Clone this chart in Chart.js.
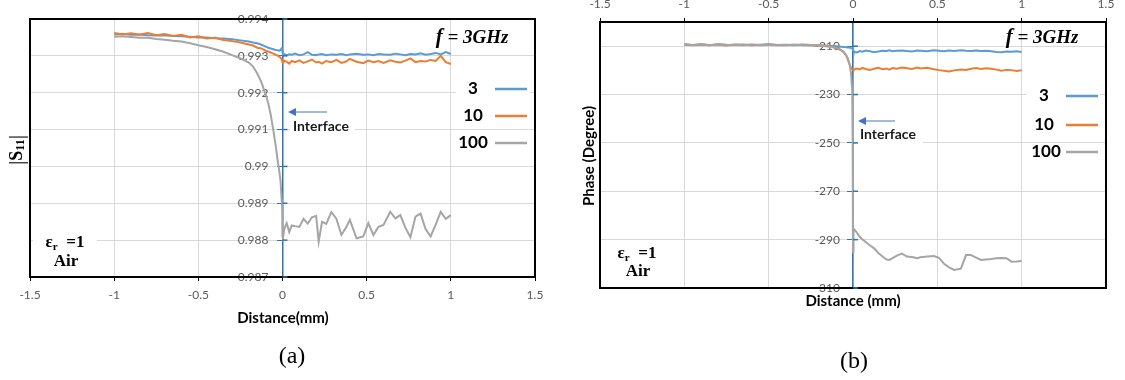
<!DOCTYPE html>
<html><head><meta charset="utf-8">
<script src="https://cdn.jsdelivr.net/npm/chart.js@4.4.0/dist/chart.umd.min.js"></script>
<style>
html,body{margin:0;padding:0;background:#fff;width:1125px;height:380px;overflow:hidden;}
#ca{position:absolute;left:0;top:0;}
#cb{position:absolute;left:560px;top:0;}
</style></head><body>
<canvas id="ca" width="560" height="380"></canvas>
<canvas id="cb" width="565" height="380"></canvas>
<script>
// ---------------- DATA ----------------
const seriesNames = ['3', '10', '100'];
const xs = [-1.00,-0.95,-0.90,-0.85,-0.80,-0.75,-0.70,-0.65,-0.60,-0.55,-0.50,-0.45,-0.40,-0.35,-0.30,-0.25,-0.20,
  -0.175,-0.15,-0.125,-0.10,-0.085,-0.07,-0.055,-0.04,-0.03,-0.02,-0.012,-0.005,-0.002,
  0.000,
  0.003,0.01,0.025,0.04,0.055,0.075,0.10,0.125,0.15,0.175,0.20,0.215,0.235,0.26,0.29,0.32,0.35,0.38,0.40,0.44,
  0.48,0.51,0.54,0.57,0.60,0.64,0.67,0.70,0.73,0.76,0.79,0.82,0.85,0.88,0.91,0.94,0.97,1.00];

// (a) |S11|
const s11Eps3 = [.99358,.99360,.99357,.99358,.99356,.99355,.99356,.99354,.99353,.99352,.99350,.99350,.99348,.99347,.99345,.99342,.99339,
  .99336,.99334,.99330,.99325,.99322,.99320,.99318,.99316,.99315,.99314,.99316,.99320,.99318,
  .99310,
  .99303,.99305,.99302,.99304,.99303,.99306,.99302,.99304,.99310,.99303,.99302,.99304,.99305,.99302,.99304,.99303,.99305,.99302,.99304,.99306,
  .99303,.99304,.99302,.99305,.99304,.99303,.99306,.99304,.99302,.99305,.99304,.99307,.99303,.99305,.99308,.99304,.99310,.99305];
const s11Eps10 = [.99362,.99358,.99361,.99357,.99362,.99356,.99359,.99354,.99357,.99350,.99353,.99347,.99349,.99343,.99340,.99336,.99331,
  .99328,.99322,.99320,.99314,.99312,.99309,.99306,.99303,.99301,.99298,.99295,.99290,.99287,
  .99282,
  .99280,.99287,.99284,.99279,.99286,.99283,.99288,.99281,.99285,.99290,.99282,.99284,.99279,.99286,.99283,.99289,.99281,.99285,.99292,.99284,
  .99280,.99287,.99283,.99286,.99281,.99288,.99284,.99282,.99287,.99293,.99283,.99286,.99285,.99289,.99286,.99300,.99283,.99278];
const s11Eps100 = [.99352,.99353,.99351,.99349,.99349,.99346,.99344,.99341,.99339,.99334,.99329,.99324,.99318,.99311,.99302,.99293,.99282,
  .99271,.99252,.99228,.99195,.99172,.99140,.99100,.99055,.99020,.98990,.98962,.98910,.98890,
  .98810,
  .98805,.98830,.98846,.98822,.98840,.98838,.98836,.98858,.98845,.98862,.98866,.98796,.98850,.98844,.98876,.98858,.98814,.98836,.98855,.98805,
  .98810,.98846,.98814,.98836,.98841,.98877,.98859,.98868,.98834,.98808,.98864,.98872,.98830,.98810,.98842,.98877,.98858,.98868];

// (b) Phase (degree)
const phaseEps3 = [-209.2,-209.5,-209.3,-209.6,-209.2,-209.4,-209.5,-209.3,-209.6,-209.4,-209.2,-209.5,-209.4,-209.6,-209.3,-209.5,-209.6,
  -209.7,-209.8,-209.9,-210.0,-210.1,-210.2,-210.3,-210.4,-210.5,-210.6,-210.8,-211.0,-211.2,
  -211.5,
  -212.0,-212.4,-212.6,-212.0,-212.3,-211.8,-212.1,-212.5,-212.2,-211.9,-212.0,-211.7,-212.1,-211.9,-211.8,-212.0,-212.2,-211.8,-211.9,-212.1,
  -211.7,-211.9,-212.1,-211.8,-212.0,-211.7,-211.9,-212.0,-211.8,-212.0,-211.9,-212.1,-212.4,-212.5,-212.2,-212.3,-212.1,-212.4];
const phaseEps10 = [-209.3,-209.6,-209.2,-209.5,-209.4,-209.7,-209.3,-209.5,-209.4,-209.6,-209.3,-209.5,-209.6,-209.4,-209.5,-209.6,-209.8,
  -209.8,-209.9,-210.2,-210.6,-211.0,-211.6,-212.4,-213.8,-215.6,-217.6,-218.9,-219.6,-219.8,
  -220.0,
  -219.9,-219.5,-219.2,-219.6,-219.0,-219.4,-219.8,-219.3,-218.9,-219.5,-219.2,-219.7,-219.0,-219.3,-218.8,-219.1,-219.4,-218.8,-219.2,-218.9,
  -219.5,-219.9,-220.2,-220.5,-220.0,-219.6,-219.8,-219.3,-219.0,-219.4,-219.1,-219.3,-219.7,-220.2,-219.8,-219.9,-220.3,-220.0];
const phaseEps100 = [-209.4,-209.5,-209.3,-209.6,-209.3,-209.5,-209.4,-209.6,-209.3,-209.5,-209.4,-209.6,-209.5,-209.4,-209.6,-209.5,-209.7,
  -209.9,-210.1,-210.4,-210.8,-211.2,-211.8,-212.6,-213.8,-215.2,-217.5,-221.0,-228.0,-250.0,
  -295.0,
  -285.5,-286.0,-287.3,-288.8,-289.8,-291.0,-292.3,-293.6,-295.5,-297.0,-298.2,-298.4,-297.6,-296.6,-295.8,-297.0,-297.2,-297.7,-297.3,-297.0,
  -296.8,-297.5,-300.0,-301.5,-302.5,-302.0,-296.4,-296.4,-297.4,-298.4,-298.2,-298.0,-297.7,-297.6,-297.7,-299.1,-299.0,-298.8];

// tick values / labels
const xTickValues = [-1.5,-1,-0.5,0,0.5,1,1.5];
const xTickLabels = ['-1.5','-1','-0.5','0','0.5','1','1.5'];
const s11TickValues = [0.987,0.988,0.989,0.990,0.991,0.992,0.993,0.994];
const s11TickLabels = ['0.987','0.988','0.989','0.99','0.991','0.992','0.993','0.994'];
const phaseTickValues = [-310,-290,-270,-250,-230,-210];
const phaseTickLabels = ['-310','-290','-270','-250','-230','-210'];

// ---------------- STYLE ----------------
const SANS = 'Lato, "Open Sans", sans-serif';
const SERIF = '"Liberation Serif", "DejaVu Serif", serif';
const COLORS = ['#5B9BD5', '#ED7D31', '#A5A5A5'];
const AXIS_BLUE = '#2E75B6';
const GRID = '#D9D9D9';
const TICK_TXT = '#595959';

Chart.defaults.font.family = SANS;

function pts(ys) { return xs.map((x, i) => ({x: x, y: ys[i]})); }
function makeDatasets(arrs) {
  return arrs.map((ys, i) => ({
    label: seriesNames[i], data: pts(ys), borderColor: COLORS[i], backgroundColor: COLORS[i],
    borderWidth: 2, pointRadius: 0, tension: 0, fill: false, order: 3 - i
  }));
}
function setTicks(values) { return (scale) => { scale.ticks = values.map(v => ({value: v})); }; }

function rich(ctx, x, y, parts, align) {
  let w = 0;
  parts.forEach(p => { ctx.font = p.f; w += ctx.measureText(p.t).width; });
  let cx = align === 'center' ? x - w / 2 : (align === 'right' ? x - w : x);
  ctx.textAlign = 'left'; ctx.textBaseline = 'middle';
  parts.forEach(p => { ctx.font = p.f; ctx.fillText(p.t, cx, y + (p.dy || 0)); cx += ctx.measureText(p.t).width; });
}
function whiteBox(ctx, x1, y1, x2, y2) { ctx.fillStyle = '#fff'; ctx.fillRect(x1, y1, x2 - x1, y2 - y1); }
function arrow(ctx, x1, x2, y) {
  ctx.strokeStyle = '#4472C4'; ctx.fillStyle = '#4472C4'; ctx.lineWidth = 1;
  ctx.beginPath(); ctx.moveTo(x1, y); ctx.lineTo(x2 + 6, y); ctx.stroke();
  ctx.beginPath(); ctx.moveTo(x2, y); ctx.lineTo(x2 + 8, y - 4); ctx.lineTo(x2 + 8, y + 4); ctx.closePath(); ctx.fill();
}

// y axis sits at x = 0: move its tick labels to the left of the tick marks
const yLabelGap = {
  id: 'yLabelGap',
  beforeDraw(chart) {
    const s = chart.scales.y;
    const gap = s.options.grid.tickLength + s.options.ticks.padding;
    s.getLabelItems(chart.chartArea).forEach(it => {
      if (!it._moved) { it.options.translation[0] -= gap; it._moved = true; }
    });
  }
};

function decor(spec) {
  return {
    id: 'decor_' + spec.id,
    afterDraw(chart) {
      const ctx = chart.ctx, ca = chart.chartArea, xS = chart.scales.x, yS = chart.scales.y;
      const o = spec.ox;
      ctx.save();
      spec.boxes.forEach(b => whiteBox(ctx, b[0] - o, b[1], b[2] - o, b[3]));
      // frame
      ctx.strokeStyle = '#000'; ctx.lineWidth = 2;
      ctx.strokeRect(ca.left, ca.top, ca.right - ca.left, ca.bottom - ca.top);
      // cross ticks on y axis (right half)
      const ax = xS.getPixelForValue(0);
      ctx.strokeStyle = AXIS_BLUE; ctx.lineWidth = 1.5;
      yS.ticks.forEach(t => { const py = yS.getPixelForValue(t.value); ctx.beginPath(); ctx.moveTo(ax, py); ctx.lineTo(ax + 5, py); ctx.stroke(); });
      // f = 3GHz
      ctx.fillStyle = '#000';
      rich(ctx, spec.f[0] - o, spec.f[1], [{t: 'f', f: 'bold italic 21px ' + SERIF}, {t: ' = 3', f: 'bold italic 19px ' + SERIF}, {t: 'GHz', f: 'bold italic 19px ' + SERIF}], 'center');
      // legend
      chart.data.datasets.forEach((d, i) => {
        const L = spec.legend[i];
        ctx.fillStyle = '#000';
        ctx.font = 'bold 17px ' + SANS; ctx.textAlign = 'center'; ctx.textBaseline = 'middle';
        ctx.fillText(d.label, L[0] - o, L[1]);
        ctx.strokeStyle = d.borderColor; ctx.lineWidth = 2.5;
        ctx.beginPath(); ctx.moveTo(L[2] - o, L[1]); ctx.lineTo(L[3] - o, L[1]); ctx.stroke();
      });
      // interface arrow + text
      arrow(ctx, spec.arrow[0] - o, spec.arrow[1] - o, spec.arrow[2]);
      ctx.fillStyle = '#1a1a1a'; ctx.font = 'bold 14px ' + SANS; ctx.textAlign = 'left'; ctx.textBaseline = 'middle';
      ctx.fillText('Interface', spec.iface[0] - o, spec.iface[1]);
      // epsilon / Air
      ctx.fillStyle = '#000';
      rich(ctx, spec.eps[0] - o, spec.eps[1], [{t: '\u03B5', f: 'bold 17px ' + SERIF}, {t: 'r', f: 'bold 11px ' + SERIF, dy: 4}, {t: '  =1', f: 'bold 17px ' + SERIF}], 'center');
      ctx.font = 'bold 17px ' + SERIF; ctx.textAlign = 'center'; ctx.textBaseline = 'middle';
      ctx.fillText('Air', spec.air[0] - o, spec.air[1]);
      // x title
      ctx.font = 'bold 15px ' + SANS; ctx.fillStyle = '#000';
      ctx.fillText(spec.xTitle, spec.xT[0] - o, spec.xT[1]);
      // y title
      ctx.save();
      ctx.translate(spec.yT[0] - o, spec.yT[1]); ctx.rotate(-Math.PI / 2);
      if (spec.id === 'a') {
        rich(ctx, 0, 0, [{t: '|', f: '22px ' + SERIF}, {t: 'S', f: 'bold 18px ' + SERIF}, {t: '11', f: 'bold 12px ' + SERIF, dy: 4}, {t: '|', f: '22px ' + SERIF}], 'center');
      } else {
        ctx.font = 'bold 15px ' + SANS; ctx.textAlign = 'center'; ctx.textBaseline = 'middle';
        ctx.fillText('Phase (Degree)', 0, 0);
      }
      ctx.restore();
      // panel label
      ctx.font = '24px ' + SERIF; ctx.textAlign = 'center'; ctx.textBaseline = 'middle'; ctx.fillStyle = '#000';
      ctx.fillText(spec.panel, spec.pl[0] - o, spec.pl[1]);
      ctx.restore();
    }
  };
}

function xScale(pos, h, pad) {
  return {
    type: 'linear', min: -1.5, max: 1.5, position: pos,
    afterBuildTicks: setTicks(xTickValues),
    afterFit: (s) => { s.height = h; },
    ticks: {callback: (v, i) => xTickLabels[i], color: TICK_TXT, font: {size: 12, family: SANS}, padding: pad, maxRotation: 0, autoSkip: false},
    grid: {color: GRID, lineWidth: 1, tickColor: '#000', tickLength: 4, drawTicks: true},
    border: {color: '#000', width: 2}
  };
}
function yScale(min, max, values, labels, pad) {
  return {
    type: 'linear', min: min, max: max, position: {x: 0},
    afterBuildTicks: setTicks(values),
    ticks: {callback: (v, i) => labels[i], color: TICK_TXT, font: {size: 12, family: SANS}, padding: pad, autoSkip: false},
    grid: {color: GRID, lineWidth: 1, tickColor: AXIS_BLUE, tickLength: 5, drawTicks: true},
    border: {color: AXIS_BLUE, width: 1.5}
  };
}

new Chart(document.getElementById('ca'), {
  type: 'line',
  data: {datasets: makeDatasets([s11Eps3, s11Eps10, s11Eps100])},
  options: {
    responsive: false, animation: false, devicePixelRatio: 1,
    layout: {padding: {left: 30, right: 25, top: 19, bottom: 0}},
    plugins: {legend: {display: false}, tooltip: {enabled: false}},
    scales: {x: xScale('bottom', 103, 7), y: yScale(0.987, 0.994, s11TickValues, s11TickLabels, 9)}
  },
  plugins: [yLabelGap, decor({
    id: 'a', ox: 0,
    boxes: [[33, 232, 97, 272], [456, 83, 530, 96], [290, 119, 355, 134]],
    f: [472, 38], legend: [[473, 89, 495, 527], [473, 116, 495, 527], [473, 143, 495, 527]],
    arrow: [327, 288, 112], iface: [293, 126], eps: [65, 243], air: [66, 262],
    xTitle: 'Distance(mm)', xT: [283, 318], yT: [17, 150], panel: '(a)', pl: [292, 357]
  })]
});

new Chart(document.getElementById('cb'), {
  type: 'line',
  data: {datasets: makeDatasets([phaseEps3, phaseEps10, phaseEps100])},
  options: {
    responsive: false, animation: false, devicePixelRatio: 1,
    layout: {padding: {left: 40, right: 19, top: 0, bottom: 92}},
    plugins: {legend: {display: false}, tooltip: {enabled: false}},
    scales: {x: xScale('top', 22, 7), y: yScale(-310, -200, phaseTickValues, phaseTickLabels, 8)}
  },
  plugins: [yLabelGap, decor({
    id: 'b', ox: 560,
    boxes: [[608, 240, 668, 283], [1027, 89, 1100, 103], [857, 127, 923, 146]],
    f: [1042, 38], legend: [[1044, 96, 1066, 1098], [1044, 125, 1066, 1098], [1046, 152, 1066, 1098]],
    arrow: [895, 858, 121], iface: [860, 134], eps: [637, 254], air: [638, 272],
    xTitle: 'Distance (mm)', xT: [853, 301], yT: [589, 156], panel: '(b)', pl: [854, 362]
  })]
});
</script>
</body></html>
